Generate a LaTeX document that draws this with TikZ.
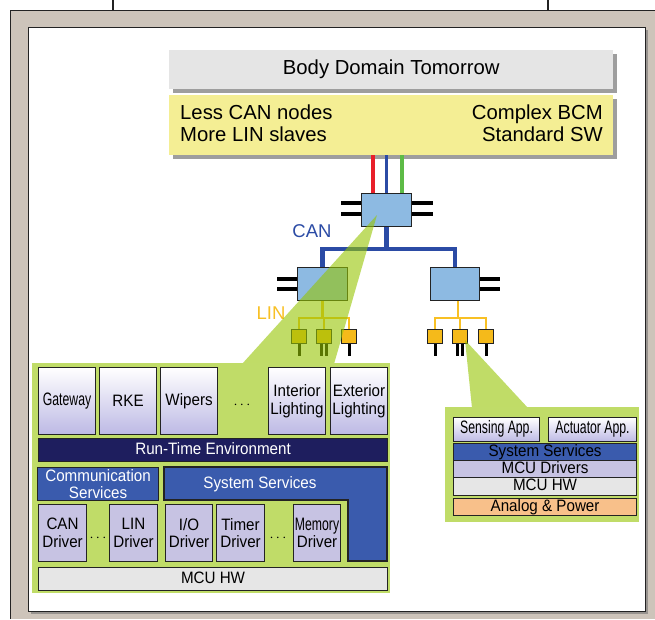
\documentclass[tikz,border=0pt]{standalone}
\usepackage{fontspec}
\setmainfont{Liberation Sans}
\newfontfamily\boxfont[FakeStretch=0.92]{Liberation Sans}
\newfontfamily\condfont[FakeStretch=0.68]{Liberation Sans}
\newcommand\condtxt[1]{{\condfont\fontsize{18}{18}\selectfont #1}}
\definecolor{beige}{RGB}{205,196,186}
\definecolor{framedark}{RGB}{35,35,35}
\definecolor{titlegrey}{RGB}{229,229,229}
\definecolor{shadowgrey}{RGB}{158,158,158}
\definecolor{lightyellow}{RGB}{244,238,148}
\definecolor{hubblue}{RGB}{141,186,226}
\definecolor{canblue}{RGB}{43,75,165}
\definecolor{linorange}{RGB}{248,192,36}
\definecolor{slaveorange}{RGB}{245,186,26}
\definecolor{redline}{RGB}{232,32,42}
\definecolor{greenline}{RGB}{93,187,70}
\definecolor{greenbg}{RGB}{192,220,104}
\definecolor{wedgegreen}{RGB}{150,197,3}
\definecolor{lavender}{RGB}{199,195,227}
\definecolor{navy}{RGB}{30,30,94}
\definecolor{svcblue}{RGB}{58,91,173}
\definecolor{hwgrey}{RGB}{230,230,230}
\definecolor{analog}{RGB}{248,192,138}
\tikzset{
  boxtext/.style={font=\boxfont\fontsize{16.5}{17.5}\selectfont},
  box/.style={draw=framedark, line width=1.1pt, inner sep=0pt, anchor=north west,
    align=center, boxtext},
  bar/.style={box, text height=11.5pt, text depth=3pt},
  appbox/.style={box, top color=white, bottom color=lavender!95!blue},
  drvbox/.style={box, fill=lavender},
  netbox/.style={draw=framedark, line width=1pt, fill=hubblue, inner sep=0pt,
    anchor=north west, minimum width=50, minimum height=33},
  slavebox/.style={draw=framedark, line width=1pt, fill=slaveorange, inner sep=0pt,
    anchor=north west, minimum width=15, minimum height=14},
  stub/.style={line width=3.4pt, black},
  canbus/.style={line width=4.4pt, canblue},
  linbus/.style={line width=2.8pt, linorange},
  leg/.style={line width=3pt, black},
  bigtext/.style={font=\fontsize{20.3}{22}\selectfont},
  lbl/.style={font=\fontsize{18.5}{20}\selectfont},
}
\begin{document}
\begin{tikzpicture}[x=1pt,y=-1pt]
\useasboundingbox (0,0) rectangle (655,619);
% frame
\fill[beige] (10,10) rectangle (655,619);
\draw[framedark, line width=1pt] (10,619) -- (10,10) -- (655,10);
\draw[framedark, line width=1.3pt] (113,0) -- (113,10);
\draw[framedark, line width=1.3pt] (548,0) -- (548,10);
\fill[black!55, opacity=0.6] (31,30) rectangle (648,614);
\draw[framedark, fill=white, line width=1pt] (28,27) rectangle (645,611);
% title boxes
\fill[shadowgrey] (173,54) rectangle (617,93);
\node[anchor=north west, fill=titlegrey, minimum width=444, minimum height=39, inner sep=0pt, bigtext] (title) at (169,50) {Body Domain Tomorrow};
\fill[shadowgrey] (173,99) rectangle (617,159);
\node[anchor=north west, fill=lightyellow, minimum width=444, minimum height=60, inner sep=0pt] (ybox) at (169,95) {};
\node[anchor=west, align=left, inner sep=0pt, bigtext] (lt) at (180,123) {Less CAN nodes\\More LIN slaves};
\node[anchor=east, align=right, inner sep=0pt, bigtext] (rt) at (603,123) {Complex BCM\\Standard SW};
% hub
\node[netbox] (hub) at (361,193) {};
\draw[line width=3.4pt, redline] ([xshift=12pt]hub.north west) -- ([xshift=12pt]hub.north west |- ybox.south);
\draw[line width=3.4pt, canblue] (hub.north) -- (hub.north |- ybox.south);
\draw[line width=3.4pt, greenline] ([xshift=41pt]hub.north west) -- ([xshift=41pt]hub.north west |- ybox.south);
\draw[stub] ([yshift=-10pt]hub.north west) -- ++(-20,0);
\draw[stub] ([yshift=-21pt]hub.north west) -- ++(-20,0);
\draw[stub] ([yshift=-10pt]hub.north east) -- ++(21,0);
\draw[stub] ([yshift=-21pt]hub.north east) -- ++(21,0);
\node[lbl, text=canblue] (canlbl) at (312,231) {CAN};
% nodes
\node[netbox] (nl) at (297,267) {};
\node[netbox, minimum width=49] (nr) at (430,267) {};
\draw[canbus] (hub.south) -- ++(0,22) -| (nl.north);
\draw[canbus] (hub.south) ++(0,22) -| (nr.north);
\draw[stub] ([yshift=-12pt]nl.north west) -- ++(-20,0);
\draw[stub] ([yshift=-22pt]nl.north west) -- ++(-20,0);
\draw[stub] ([yshift=-12pt]nr.north east) -- ++(20,0);
\draw[stub] ([yshift=-22pt]nr.north east) -- ++(20,0);
\node[lbl, text=linorange] (linlbl) at (271,313) {LIN};
% slaves
\node[slavebox] (s1) at (291,329) {};
\node[slavebox] (s2) at (316,329) {};
\node[slavebox] (s3) at (341,329) {};
\node[slavebox] (r1) at (427,329) {};
\node[slavebox] (r2) at (452,329) {};
\node[slavebox] (r3) at (478,329) {};
\draw[linbus] (nl.south) -- ++(0,17) coordinate (lb) -| (s1.north);
\draw[linbus] (lb) -| (s3.north);
\draw[linbus] (s2.north) -- (s2.north |- lb);
\draw[linbus] ([xshift=3pt]nr.south) -- ++(0,17) coordinate (rb) -| (r1.north);
\draw[linbus] (rb) -| (r3.north);
\draw[linbus] (r2.north) -- (r2.north |- rb);
\foreach \s in {s1,s3,r1,r3} {\draw[leg] (\s.south) -- ++(0,12);}
\foreach \s in {s2,r2} {\draw[leg] ([xshift=-2.8pt]\s.south) -- ++(0,12); \draw[leg] ([xshift=2.8pt]\s.south) -- ++(0,12);}
% wedges
\fill[wedgegreen, fill opacity=0.6] (377,215) -- (242,364) -- (334,364) -- cycle;
\fill[wedgegreen, fill opacity=0.6] (465,340) -- (472,408) -- (528,408) -- cycle;
% left green box
\node[anchor=north west, fill=greenbg, minimum width=358, minimum height=230, inner sep=0pt] (gl) at (32,363) {};
\node[appbox, minimum width=57, minimum height=67] (gw) at (38,367) {\condtxt{Gateway}};
\node[appbox, minimum width=57, minimum height=67] (rke) at (99,367) {RKE};
\node[appbox, minimum width=57, minimum height=67] (wip) at (160,367) {Wipers};
\node[font=\fontsize{15}{17}\selectfont] (dots1) at (242,405) {$\cdots$};
\node[appbox, minimum width=57, minimum height=67] (il) at (268,367) {Interior\\Lighting};
\node[appbox, minimum width=57, minimum height=67] (el) at (330,367) {Exterior\\Lighting};
\node[bar, fill=navy, text=white, minimum width=349, minimum height=23] (rte) at (38,438) {Run-Time Environment};
\node[box, fill=svcblue, text=white, minimum width=121, minimum height=33] (comm) at (37,467) {Communication\\Services};
\draw[framedark, line width=1.1pt, fill=svcblue] (164,467) -- (387,467) -- (387,561) -- (348,561) -- (348,500) -- (164,500) -- cycle;
\node[text=white, boxtext] (sysl) at (260,484) {System Services};
\node[drvbox, minimum width=48, minimum height=57] (cand) at (38,504) {CAN\\Driver};
\node[font=\fontsize{15}{17}\selectfont] (dots2) at (98,538) {$\cdots$};
\node[drvbox, minimum width=48, minimum height=57] (lind) at (109,504) {LIN\\Driver};
\node[drvbox, minimum width=47, minimum height=57] (iod) at (165,504) {I/O\\Driver};
\node[drvbox, minimum width=48, minimum height=57] (timd) at (216,504) {Timer\\Driver};
\node[font=\fontsize{15}{17}\selectfont] (dots3) at (278,538) {$\cdots$};
\node[drvbox, minimum width=47, minimum height=57] (memd) at (293,504) {\condtxt{Memory}\\Driver};
\node[bar, fill=hwgrey, minimum width=349, minimum height=23] (hwl) at (38,567) {MCU HW};
% right green box
\node[anchor=north west, fill=greenbg, minimum width=194, minimum height=115, inner sep=0pt] (gr) at (445,407) {};
\node[bar, top color=white, bottom color=lavender!95!blue, minimum width=86, minimum height=24] (sens) at (453,417) {\condtxt{Sensing App.}};
\node[bar, top color=white, bottom color=lavender!95!blue, minimum width=88, minimum height=24] (act) at (548,417) {\condtxt{Actuator App.}};
\node[bar, fill=svcblue, minimum width=183, minimum height=17] (sysr) at (453,443) {System Services};
\node[bar, fill=lavender, minimum width=183, minimum height=17] (drvr) at (453,460) {MCU Drivers};
\node[bar, fill=hwgrey, minimum width=183, minimum height=18] (hwr) at (453,477) {MCU HW};
\node[bar, fill=analog, minimum width=183, minimum height=17] (ap) at (453,498) {Analog \& Power};
\end{tikzpicture}
\end{document}
